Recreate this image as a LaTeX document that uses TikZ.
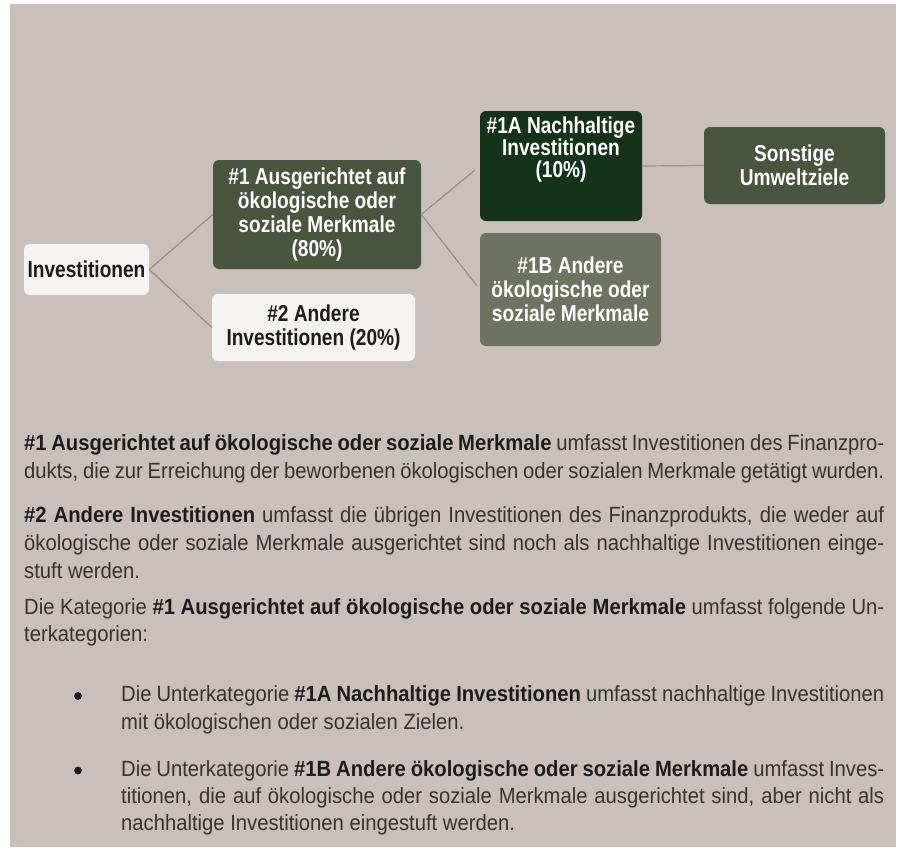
\documentclass[tikz,border=0pt]{standalone}
\usepackage{fontspec}
\setmainfont{Liberation Sans}[FakeStretch=0.83]
\newfontfamily\bodyfont{Liberation Sans}[FakeStretch=0.92]
\definecolor{bgc}{HTML}{C9C0BB}
\definecolor{boxw}{HTML}{F4F3F1}
\definecolor{olive}{HTML}{4A5540}
\definecolor{dgreen}{HTML}{15321B}
\definecolor{grayol}{HTML}{6E7261}
\definecolor{linec}{HTML}{9B8F84}
\definecolor{txtb}{HTML}{1C1C1C}
\definecolor{txtr}{HTML}{353332}
\newcommand\hb[1]{{\bfseries\color{txtb}#1}}
\tikzset{
  box/.style={rounded corners=6pt, inner sep=0pt, align=center,
    font=\fontsize{23}{24}\selectfont\bfseries},
  wbox/.style={box, fill=boxw, text=txtb},
  obox/.style={box, fill=olive, text=white},
  gbox/.style={box, fill=dgreen, text=white},
  gobox/.style={box, fill=grayol, text=white},
  conn/.style={draw=linec, line width=1.2pt},
  body/.style={anchor=base west, inner sep=0pt, font=\bodyfont\fontsize{22}{27.5}\selectfont, text=txtr},
}
\begin{document}
\begin{tikzpicture}[x=1pt,y=-1pt]
\useasboundingbox (0,0) rectangle (901,847);
\fill[bgc] (10,4) rectangle (896,847);

% diagram
\node[wbox, minimum width=125pt, minimum height=51pt] (inv) at (86.5,269.5) {Investitionen};
\node[obox, minimum width=208pt, minimum height=109pt] (a1) at (317,214.5) {\#1 Ausgerichtet auf\\ökologische oder\\soziale Merkmale\\(80\%)};
\node[wbox, minimum width=203pt, minimum height=67pt] (a2) at (313.5,327.5) {\#2 Andere\\Investitionen (20\%)};
\node[gbox, minimum width=162pt, minimum height=110pt] (a1a) at (561,166) {};
\node[box, text=white, font=\fontsize{23}{22}\selectfont\bfseries] (t1a) at (561,150) {\#1A Nachhaltige\\Investitionen\\(10\%)};
\node[obox, minimum width=181pt, minimum height=77pt] (son) at (794.5,165.5) {Sonstige\\Umweltziele};
\node[gobox, minimum width=181pt, minimum height=113pt] (a1b) at (570.5,289.5) {\#1B Andere\\ökologische oder\\soziale Merkmale};

\draw[conn] (inv.east) -- (a1.west);
\draw[conn] (inv.east) -- (a2.west);
\draw[conn, shorten >=7pt] (a1.east) -- (a1a.west);
\draw[conn, shorten >=5pt] (a1.east) -- (a1b.west);
\draw[conn] (a1a.east) -- (son.west);

% text
\node[body] (p1a) at (24,450.7) {\makebox[860pt][s]{\hb{\#1 Ausgerichtet auf ökologische oder soziale Merkmale} umfasst Investitionen des Finanzpro-}};
\node[body] (p1b) at (24,478.3) {\makebox[860pt][s]{dukts, die zur Erreichung der beworbenen ökologischen oder sozialen Merkmale getätigt wurden.}};
\node[body] (p2a) at (24,522.7) {\makebox[860pt][s]{\hb{\#2 Andere Investitionen} umfasst die übrigen Investitionen des Finanzprodukts, die weder auf}};
\node[body] (p2b) at (24,550) {\makebox[860pt][s]{ökologische oder soziale Merkmale ausgerichtet sind noch als nachhaltige Investitionen einge-}};
\node[body] (p2c) at (24,578.3) {stuft werden.};
\node[body] (p3a) at (24,614) {\makebox[860pt][s]{Die Kategorie \hb{\#1 Ausgerichtet auf ökologische oder soziale Merkmale} umfasst folgende Un-}};
\node[body] (p3b) at (24,641.7) {terkategorien:};

\fill[txtb] (78,696) circle (3.9pt);
\node[body] (b1a) at (121,701.7) {\makebox[763pt][s]{Die Unterkategorie \hb{\#1A Nachhaltige Investitionen} umfasst nachhaltige Investitionen}};
\node[body] (b1b) at (121,729.3) {mit ökologischen oder sozialen Zielen.};
\fill[txtb] (78,770.5) circle (3.9pt);
\node[body] (b2a) at (121,776) {\makebox[763pt][s]{Die Unterkategorie \hb{\#1B Andere ökologische oder soziale Merkmale} umfasst Inves-}};
\node[body] (b2b) at (121,803.3) {\makebox[763pt][s]{titionen, die auf ökologische oder soziale Merkmale ausgerichtet sind, aber nicht als}};
\node[body] (b2c) at (121,830.7) {nachhaltige Investitionen eingestuft werden.};
\end{tikzpicture}
\end{document}
